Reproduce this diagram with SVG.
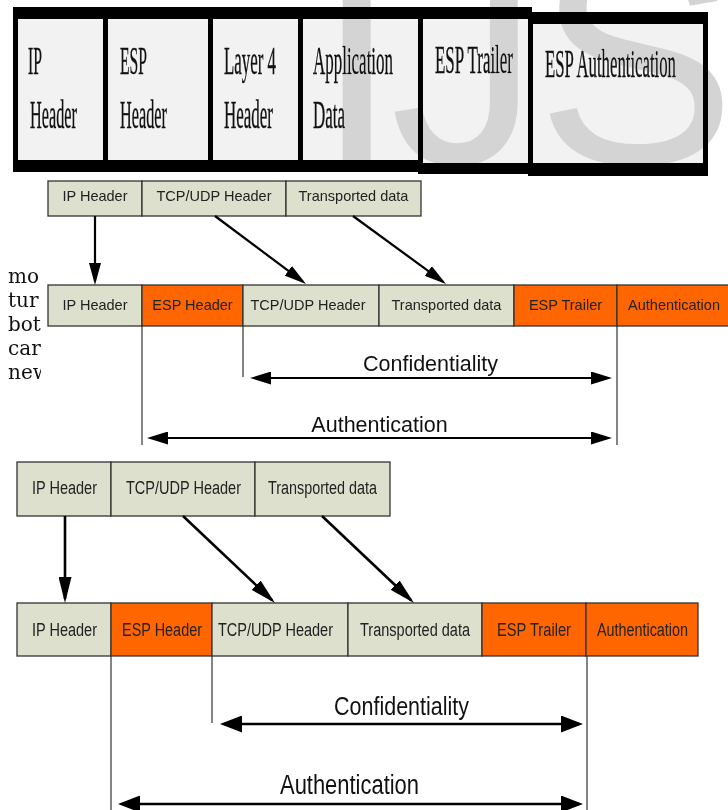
<svg xmlns="http://www.w3.org/2000/svg" width="728" height="810" viewBox="0 0 728 810">
<style>
.cell{fill:#f2f2f2}
.blk{fill:#000}
.tt{font-family:"Liberation Serif",serif;font-size:39px;fill:#111;stroke:#111;stroke-width:0.35}
.bg{fill:#dde0cc;stroke:#333;stroke-width:1.3}
.or{fill:#ff6600;stroke:#333;stroke-width:1.3}
.t2{font-family:"Liberation Sans",Arial,sans-serif;font-size:14.5px;fill:#222;text-anchor:middle}
.t3{font-family:"Liberation Sans",Arial,sans-serif;font-size:18px;fill:#222;text-anchor:middle}
.lbl{font-family:"Liberation Sans",Arial,sans-serif;fill:#111;text-anchor:middle}
.thin{stroke:#333;stroke-width:1.2;fill:none}
.ar2{stroke:#000;stroke-width:2.2;fill:none}
.ar3{stroke:#000;stroke-width:2.6;fill:none}
.frag{font-family:"DejaVu Serif",serif;font-size:20px;fill:#111}
.wm{font-family:"Liberation Sans",Arial,sans-serif;font-size:300px;fill:#d4d4d4;mix-blend-mode:darken}
</style>
<defs>
<marker id="m2d" viewBox="0 0 22 12" refX="18" refY="6" markerWidth="22" markerHeight="12" markerUnits="userSpaceOnUse" orient="auto"><path d="M0,0 L22,6 L0,12 Z" fill="#000"/></marker>
<marker id="m2h" viewBox="0 0 21 13" refX="17" refY="6.5" markerWidth="21" markerHeight="13" markerUnits="userSpaceOnUse" orient="auto-start-reverse"><path d="M0,0 L21,6.5 L0,13 Z" fill="#000"/></marker>
<marker id="m3d" viewBox="0 0 26 13" refX="22" refY="6.5" markerWidth="26" markerHeight="13" markerUnits="userSpaceOnUse" orient="auto"><path d="M0,0 L26,6.5 L0,13 Z" fill="#000"/></marker>
<marker id="m3h" viewBox="0 0 22 17" refX="18" refY="8.5" markerWidth="22" markerHeight="17" markerUnits="userSpaceOnUse" orient="auto-start-reverse"><path d="M0,0 L22,8.5 L0,17 Z" fill="#000"/></marker>
<clipPath id="fragclip"><rect x="0" y="250" width="41" height="150"/></clipPath>
</defs>
<rect width="728" height="810" fill="#fff"/>

<!-- Top table -->
<g id="top-table">
<rect class="blk" x="13" y="7" width="519" height="165"/>
<rect class="blk" x="418" y="158" width="114" height="16"/>
<rect class="blk" x="528" y="12" width="180" height="164"/>
<g id="t-ip"><rect class="cell" x="18" y="19" width="85" height="141"/><text class="tt" x="28" y="74" textLength="14" lengthAdjust="spacingAndGlyphs">IP</text><text class="tt" x="30" y="128" textLength="47" lengthAdjust="spacingAndGlyphs">Header</text></g>
<g id="t-esp"><rect class="cell" x="108" y="19" width="100" height="141"/><text class="tt" x="120" y="74" textLength="27" lengthAdjust="spacingAndGlyphs">ESP</text><text class="tt" x="120" y="128" textLength="47" lengthAdjust="spacingAndGlyphs">Header</text></g>
<g id="t-l4"><rect class="cell" x="213" y="19" width="85" height="141"/><text class="tt" x="224" y="74" textLength="52" lengthAdjust="spacingAndGlyphs">Layer 4</text><text class="tt" x="224" y="128" textLength="49" lengthAdjust="spacingAndGlyphs">Header</text></g>
<g id="t-app"><rect class="cell" x="303" y="19" width="115" height="141"/><text class="tt" x="313" y="74" textLength="80" lengthAdjust="spacingAndGlyphs">Application</text><text class="tt" x="313" y="128" textLength="32" lengthAdjust="spacingAndGlyphs">Data</text></g>
<g id="t-trl"><rect class="cell" x="423" y="19" width="105" height="144"/><text class="tt" x="435" y="73" textLength="78" lengthAdjust="spacingAndGlyphs">ESP Trailer</text></g>
<g id="t-auth"><rect class="cell" x="533" y="24" width="170" height="139"/><text class="tt" x="545" y="77" textLength="131" lengthAdjust="spacingAndGlyphs">ESP Authentication</text></g>
<text class="wm" x="315" y="163">I</text>
<text class="wm" x="390" y="163">J</text>
<text class="wm" x="536" y="163">S</text>
</g>

<!-- left page fragments -->
<g id="fragments" clip-path="url(#fragclip)">
<text class="frag" x="8" y="283">mo</text>
<text class="frag" x="8" y="307">tur</text>
<text class="frag" x="8" y="331">bot</text>
<text class="frag" x="8" y="355">car</text>
<text class="frag" x="8" y="379">new</text>
</g>

<!-- Middle diagram -->
<g id="mid-top">
<g id="m-ip1"><rect class="bg" x="48" y="181" width="94" height="35"/><text class="t2" x="95" y="201">IP Header</text></g>
<g id="m-tcp1"><rect class="bg" x="142" y="181" width="144" height="35"/><text class="t2" x="214" y="201">TCP/UDP Header</text></g>
<g id="m-data1"><rect class="bg" x="286" y="181" width="135" height="35"/><text class="t2" x="353.5" y="201">Transported data</text></g>
</g>
<g id="mid-bottom">
<g id="m-ip2"><rect class="bg" x="48" y="285" width="94" height="41"/><text class="t2" x="95" y="310">IP Header</text></g>
<g id="m-esph"><rect class="or" x="142" y="285" width="101" height="41"/><text class="t2" x="192.5" y="310">ESP Header</text></g>
<g id="m-tcp2"><rect class="bg" x="243" y="285" width="136" height="41"/><text class="t2" x="308" y="310">TCP/UDP Header</text></g>
<g id="m-data2"><rect class="bg" x="379" y="285" width="135" height="41"/><text class="t2" x="446.5" y="310">Transported data</text></g>
<g id="m-espt"><rect class="or" x="514" y="285" width="103" height="41"/><text class="t2" x="565.5" y="310">ESP Trailer</text></g>
<g id="m-auth"><rect class="or" x="617" y="285" width="114" height="41"/><text class="t2" x="674" y="310">Authentication</text></g>
</g>
<g id="mid-connectors">
<line class="ar2" x1="95" y1="216" x2="95" y2="281" marker-end="url(#m2d)"/>
<line class="ar2" x1="215" y1="216" x2="302.8" y2="281.6" marker-end="url(#m2d)"/>
<line class="ar2" x1="353" y1="216" x2="442.8" y2="281.6" marker-end="url(#m2d)"/>
<line class="thin" x1="142" y1="326" x2="142" y2="445"/>
<line class="thin" x1="243" y1="326" x2="243" y2="377"/>
<line class="thin" x1="617" y1="326" x2="617" y2="445"/>
<line class="ar2" x1="254" y1="378" x2="608" y2="378" marker-start="url(#m2h)" marker-end="url(#m2h)"/>
<line class="ar2" x1="151" y1="438" x2="608" y2="438" marker-start="url(#m2h)" marker-end="url(#m2h)"/>
<text class="lbl" x="430.5" y="371" font-size="21.5">Confidentiality</text>
<text class="lbl" x="379.5" y="432" font-size="21.5">Authentication</text>
</g>

<!-- Bottom diagram -->
<g id="bot-top">
<g id="b-ip1"><rect class="bg" x="17" y="462" width="94" height="54"/><text class="t3" x="64.5" y="494" textLength="65" lengthAdjust="spacingAndGlyphs">IP Header</text></g>
<g id="b-tcp1"><rect class="bg" x="111" y="462" width="144" height="54"/><text class="t3" x="183.5" y="494" textLength="115" lengthAdjust="spacingAndGlyphs">TCP/UDP Header</text></g>
<g id="b-data1"><rect class="bg" x="255" y="462" width="135" height="54"/><text class="t3" x="322.5" y="494" textLength="109" lengthAdjust="spacingAndGlyphs">Transported data</text></g>
</g>
<g id="bot-bottom">
<g id="b-ip2"><rect class="bg" x="17" y="603" width="94" height="53"/><text class="t3" x="64.5" y="636" textLength="65" lengthAdjust="spacingAndGlyphs">IP Header</text></g>
<g id="b-esph"><rect class="or" x="111" y="603" width="101" height="53"/><text class="t3" x="162" y="636" textLength="80" lengthAdjust="spacingAndGlyphs">ESP Header</text></g>
<g id="b-tcp2"><rect class="bg" x="212" y="603" width="136" height="53"/><text class="t3" x="275.5" y="636" textLength="115" lengthAdjust="spacingAndGlyphs">TCP/UDP Header</text></g>
<g id="b-data2"><rect class="bg" x="348" y="603" width="134" height="53"/><text class="t3" x="415" y="636" textLength="110" lengthAdjust="spacingAndGlyphs">Transported data</text></g>
<g id="b-espt"><rect class="or" x="482" y="603" width="104" height="53"/><text class="t3" x="534" y="636" textLength="74" lengthAdjust="spacingAndGlyphs">ESP Trailer</text></g>
<g id="b-auth"><rect class="or" x="586" y="603" width="112" height="53"/><text class="t3" x="642.5" y="636" textLength="91" lengthAdjust="spacingAndGlyphs">Authentication</text></g>
</g>
<g id="bot-connectors">
<line class="ar3" x1="65" y1="516" x2="65" y2="599" marker-end="url(#m3d)"/>
<line class="ar3" x1="183" y1="516" x2="272.1" y2="600.3" marker-end="url(#m3d)"/>
<line class="ar3" x1="322" y1="516" x2="411.1" y2="600.3" marker-end="url(#m3d)"/>
<line class="thin" x1="111" y1="656" x2="111" y2="810"/>
<line class="thin" x1="212" y1="656" x2="212" y2="723"/>
<line class="thin" x1="587" y1="656" x2="587" y2="810"/>
<line class="ar3" x1="224" y1="724" x2="579" y2="724" marker-start="url(#m3h)" marker-end="url(#m3h)"/>
<line class="ar3" x1="122" y1="804" x2="579" y2="804" marker-start="url(#m3h)" marker-end="url(#m3h)"/>
<text class="lbl" x="401.5" y="715" font-size="25" textLength="135" lengthAdjust="spacingAndGlyphs">Confidentiality</text>
<text class="lbl" x="349.5" y="794" font-size="27" textLength="139" lengthAdjust="spacingAndGlyphs">Authentication</text>
</g>
</svg>
